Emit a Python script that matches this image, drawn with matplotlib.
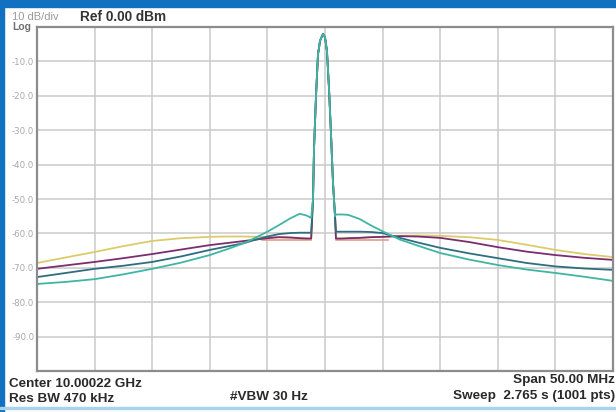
import matplotlib.pyplot as plt
from matplotlib.patches import Rectangle

# frequency offset from centre, MHz (span 50 MHz)
left_f = [-25, -22.5, -20, -17.5, -15, -12.5, -10, -8.5, -7, -6, -5, -4, -3, -2.2, -1.6, -1.2]
lobe_f = [-1.04, -0.95, -0.78, -0.61, -0.43, -0.17, 0.0, 0.17, 0.35, 0.52, 0.69, 0.87]
right_f = [0.95, 1.5, 2, 3, 4, 5, 6.5, 8, 10, 12.5, 15, 17.5, 20, 22.5, 25]

# carrier main lobe, dBm (shared by every trace)
lobe_db = [-50, -35, -20, -8, -4, -2, -3, -7, -18, -31, -45, -55]

yellow_left = [-68.6, -67.0, -65.4, -63.7, -62.2, -61.4, -61.0, -60.9, -60.9, -61.0,
               -61.0, -61.1, -61.2, -61.3, -61.4, -61.5]
yellow_right = [-61.5, -61.5, -61.4, -61.3, -61.1, -61.0, -60.7, -60.6, -60.7, -61.1,
                -61.9, -63.3, -64.8, -66.0, -66.9]
magenta_left = [-70.3, -69.3, -68.3, -67.2, -66.0, -64.7, -63.4, -62.8, -62.2, -61.8,
                -61.4, -61.1, -61.2, -61.4, -61.5, -61.5]
magenta_right = [-61.5, -61.5, -61.4, -61.3, -61.1, -61.0, -60.8, -60.9, -61.3, -62.5,
                 -64.0, -65.3, -66.3, -67.1, -67.7]
blue_left = [-72.7, -71.5, -70.3, -69.4, -68.3, -66.7, -64.8, -63.8, -62.8, -61.8,
             -60.9, -60.2, -59.9, -59.8, -59.8, -59.8]
blue_right = [-59.5, -59.5, -59.5, -59.5, -59.6, -59.9, -61.3, -62.6, -64.2, -65.8,
              -67.2, -68.6, -69.6, -70.2, -70.6]
cyan_left = [-74.7, -74.1, -73.3, -71.9, -70.3, -68.5, -66.3, -64.6, -62.8, -61.2,
             -59.5, -57.6, -55.6, -54.3, -54.8, -55.5]
cyan_right = [-54.5, -54.5, -54.6, -55.8, -57.7, -59.4, -61.8, -63.5, -65.7, -67.6,
              -69.2, -70.5, -71.5, -72.6, -73.8]

salmon_f1 = [-5.5, -1.2]
salmon_f2 = [0.95, 5.5]
salmon_db = [-62.0, -62.0]

ytick_vals = [-10, -20, -30, -40, -50, -60, -70, -80, -90]

fig = plt.figure(figsize=(6.16, 4.12), dpi=100)
fig.patch.set_facecolor('white')
ax = fig.add_axes([37/616, 1-371/412, 576/616, 344/412])

# blue frame of the screenshot
fig.patches.append(Rectangle((0, 1-7/412), 1, 7/412, transform=fig.transFigure,
                             color='#1170c0', zorder=0))
fig.patches.append(Rectangle((0, 0), 4/616, 1, transform=fig.transFigure,
                             color='#1170c0', zorder=0))
fig.patches.append(Rectangle((0, 3/412), 1, 2/412, transform=fig.transFigure,
                             color='#a9d3ec', zorder=0))

fq = left_f + lobe_f + right_f
traces = [
    (yellow_left, yellow_right, '#dccb6a'),
    (magenta_left, magenta_right, '#7b2d6e'),
    (blue_left, blue_right, '#2f6d80'),
    (cyan_left, cyan_right, '#3fb5a3'),
]
ax.plot(salmon_f1, salmon_db, color='#e09a90', lw=1.2)
ax.plot(salmon_f2, salmon_db, color='#e09a90', lw=1.2)
for lft, rgt, col in traces:
    ax.plot(fq, lft + lobe_db + rgt, color=col, lw=1.3)

ax.set_xlim(-25, 25)
ax.set_ylim(-100, 0)
ax.set_xticks([-20, -15, -10, -5, 0, 5, 10, 15, 20])
ax.set_xticklabels([])
ax.set_yticks(ytick_vals)
ax.set_yticklabels(['%.1f' % v for v in ytick_vals], color='#a8a8a8', fontsize=6.2)
ax.tick_params(length=0, pad=2)
ax.grid(True, color='#cacaca', lw=1.1)
ax.set_axisbelow(True)
for s in ax.spines.values():
    s.set_color('#8c8c8c')
    s.set_linewidth(1.6)

def px(x, y):
    return x/616, 1-y/412

fam = 'Liberation Sans'
fig.text(*px(12, 16.5), '10 dB/div', color='#9a9a9a', fontsize=8, family=fam, va='center')
fig.text(*px(12, 26.5), 'Log', color='#707070', fontsize=7.5, family=fam, va='center', weight='bold')
fig.text(*px(80, 17), 'Ref 0.00 dBm', color='#333333', fontsize=9.8, family=fam, va='center', weight='bold')

fs = 9.7
fig.text(*px(9, 384), 'Center 10.00022 GHz', color='#2a2a2a', fontsize=fs, family=fam, va='center', weight='bold')
fig.text(*px(9, 398.5), 'Res BW 470 kHz', color='#2a2a2a', fontsize=fs, family=fam, va='center', weight='bold')
fig.text(*px(230, 397.5), '#VBW 30 Hz', color='#2a2a2a', fontsize=fs, family=fam, va='center', weight='bold')
fig.text(*px(615, 380.5), 'Span 50.00 MHz', color='#2a2a2a', fontsize=fs, family=fam, va='center', ha='right', weight='bold')
fig.text(*px(615, 396.5), 'Sweep  2.765 s (1001 pts)', color='#2a2a2a', fontsize=fs, family=fam, va='center', ha='right', weight='bold')

fig.savefig('out.png', dpi=100)
